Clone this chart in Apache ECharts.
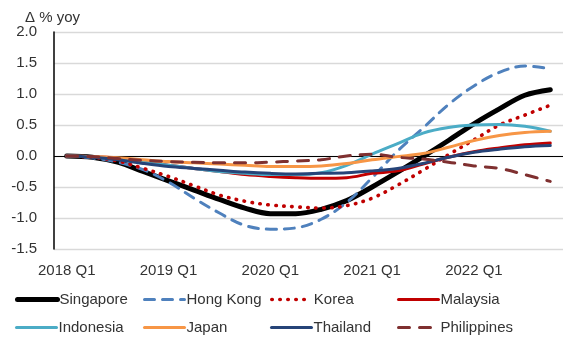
<!DOCTYPE html>
<html>
<head>
<meta charset="utf-8">
<script src="https://cdn.jsdelivr.net/npm/echarts@6/dist/echarts.min.js"></script>
<style>
html,body{margin:0;padding:0;background:#fff;}
#chart{width:563px;height:338px;}
</style>
</head>
<body>
<div id="chart"></div>
<script>
const quarters = ['2018 Q1','2018 Q2','2018 Q3','2018 Q4','2019 Q1','2019 Q2','2019 Q3','2019 Q4',
  '2020 Q1','2020 Q2','2020 Q3','2020 Q4','2021 Q1','2021 Q2','2021 Q3','2021 Q4',
  '2022 Q1','2022 Q2','2022 Q3','2022 Q4'];
const yTicks = [-1.5, -1.0, -0.5, 0.0, 0.5, 1.0, 1.5, 2.0];
const yTitle = 'Δ % yoy';

const singapore   = [0.00,-0.02,-0.10,-0.25,-0.40,-0.55,-0.70,-0.84,-0.93,-0.93,-0.86,-0.72,-0.50,-0.26,-0.01,0.25,0.52,0.76,0.98,1.07];
const hongKong    = [0.00,-0.03,-0.10,-0.22,-0.42,-0.68,-0.92,-1.12,-1.18,-1.16,-1.02,-0.75,-0.35,0.08,0.45,0.83,1.13,1.35,1.45,1.41];
const korea       = [0.00,-0.02,-0.08,-0.20,-0.33,-0.48,-0.63,-0.73,-0.79,-0.82,-0.84,-0.80,-0.68,-0.47,-0.23,0.02,0.26,0.50,0.66,0.82];
const malaysia    = [0.00,-0.01,-0.04,-0.10,-0.15,-0.20,-0.25,-0.30,-0.33,-0.35,-0.36,-0.35,-0.28,-0.24,-0.13,-0.02,0.07,0.13,0.18,0.21];
const indonesia   = [0.00,-0.01,-0.05,-0.10,-0.15,-0.20,-0.25,-0.28,-0.30,-0.30,-0.27,-0.15,0.03,0.20,0.37,0.46,0.50,0.51,0.48,0.40];
const japan       = [0.00,-0.01,-0.03,-0.06,-0.09,-0.11,-0.13,-0.15,-0.17,-0.17,-0.16,-0.12,-0.06,-0.01,0.04,0.14,0.25,0.33,0.38,0.40];
const thailand    = [0.00,-0.02,-0.06,-0.12,-0.17,-0.20,-0.23,-0.26,-0.28,-0.29,-0.28,-0.27,-0.24,-0.20,-0.12,-0.02,0.06,0.11,0.15,0.17];
const philippines = [0.00,-0.01,-0.04,-0.07,-0.09,-0.10,-0.11,-0.11,-0.10,-0.08,-0.06,0.00,0.03,-0.02,-0.05,-0.10,-0.16,-0.20,-0.30,-0.41];

const seriesNames = ['Singapore','Hong Kong','Korea','Malaysia','Indonesia','Japan','Thailand','Philippines'];
const seriesData = [singapore, hongKong, korea, malaysia, indonesia, japan, thailand, philippines];
const styles = [
  {color:'#000000', width:5, type:'solid'},
  {color:'#4f81bd', width:3, type:[10,8]},
  {color:'#c00000', width:3.6, type:[0.5,7.5]},
  {color:'#c00000', width:3, type:'solid'},
  {color:'#4bacc6', width:3, type:'solid'},
  {color:'#f79646', width:3, type:'solid'},
  {color:'#264478', width:3, type:'solid'},
  {color:'#7f3030', width:3, type:[11,10]}
];

const FONT = 'Liberation Sans';
const TXT = '#333333';

const series = seriesNames.map((n, i) => ({
  name: n,
  type: 'line',
  data: seriesData[i],
  smooth: 0.35,
  symbol: 'none',
  z: 3 + i,
  color: styles[i].color,
  lineStyle: {color: styles[i].color, width: styles[i].width, type: styles[i].type, cap: 'round', join: 'round'},
  emphasis: {disabled: true}
}));
series[0].markLine = {
  silent: true, symbol: 'none', z: 1,
  label: {show: false},
  lineStyle: {color: '#000', width: 1, type: 'solid'},
  data: [{yAxis: 0}]
};
series[0].z = 2;

const legendLeft = [15, 143, 270, 397];
const legendTop = [292, 320];
const legends = seriesNames.map((n, i) => ({
  data: [n],
  left: legendLeft[i % 4],
  top: legendTop[Math.floor(i / 4)],
  padding: 0,
  itemWidth: 40,
  itemHeight: 14,
  itemGap: 0,
  selectedMode: false,
  itemStyle: {opacity: 0},
  lineStyle: {color: styles[i].color, width: styles[i].width, type: styles[i].type, cap: 'round'},
  textStyle: {fontFamily: FONT, fontSize: 15, color: TXT, padding: [0, 0, 0, -3]}
}));

const chart = echarts.init(document.getElementById('chart'), null, {renderer: 'canvas'});
chart.setOption({
  animation: false,
  backgroundColor: '#ffffff',
  grid: {left: 54, top: 32, bottom: 89, right: -6, containLabel: false},
  legend: legends,
  graphic: [{
    type: 'text', left: 25, top: 10,
    style: {text: yTitle, font: '15px "Liberation Sans"', fill: TXT}
  }],
  xAxis: {
    type: 'category',
    data: quarters,
    boundaryGap: true,
    axisLine: {show: false, onZero: false},
    axisTick: {show: false},
    splitLine: {show: false},
    axisLabel: {interval: 3, margin: 14, fontFamily: FONT, fontSize: 15, color: TXT}
  },
  yAxis: {
    type: 'value',
    min: yTicks[0],
    max: yTicks[yTicks.length - 1],
    interval: 0.5,
    axisLine: {show: true, lineStyle: {color: '#000', width: 1.5}},
    axisTick: {show: false},
    splitLine: {show: true, lineStyle: {color: '#d9d9d9', width: 1.3}},
    axisLabel: {margin: 17, fontFamily: FONT, fontSize: 15, color: TXT,
      formatter: v => v.toFixed(1)}
  },
  series: series
});
</script>
</body>
</html>
